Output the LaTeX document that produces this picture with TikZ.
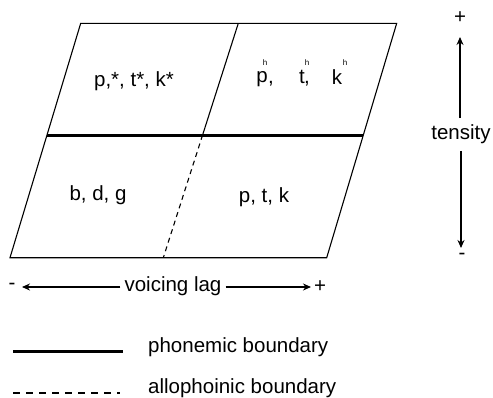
\documentclass[tikz,border=0pt]{standalone}
\usepackage{fontspec}
\setmainfont{Liberation Sans}
\usetikzlibrary{arrows.meta}
\begin{document}
\begin{tikzpicture}[x=1pt,y=-1pt,
  lbl/.style={inner sep=0pt,font=\fontsize{20.5}{24}\selectfont},
  sup/.style={inner sep=0pt,font=\fontsize{8}{9}\selectfont},
  thin/.style={line width=1.1pt},
  thick3/.style={line width=3pt},
  arr/.style={line width=1.1pt,-{Stealth[length=8pt,width=7pt]}}]
\useasboundingbox (0,0) rectangle (493,397);
% corners
\coordinate (TL) at (80.7,23.3);
\coordinate (TR) at (396.7,23.3);
\coordinate (BL) at (10,257.7);
\coordinate (BR) at (326.7,257.7);
\coordinate (TM) at (238.3,23.3);
\coordinate (BM) at (163.3,257.7);
\coordinate (ML) at (47,135);
\coordinate (MR) at (363.3,135);
\coordinate (MM) at (202.6,135);
\draw[thin,line join=miter] (TL) -- (TR) -- (BR) -- (BL) -- cycle;
\draw[thin] (TM) -- (MM);
\draw[thin,dashed,dash pattern=on 5pt off 4pt] (MM) -- (BM);
\draw[thick3] (ML) -- (MR);
% cell labels
\node[lbl] (c1) at (134,81) {p,*, t*, k*};
\node[lbl] (p1) at (262,79) {p};
\node[sup] (p1h) at (265,63) {h};
\node[lbl] (p1c) at (271,84) {,};
\node[lbl] (t1) at (302,77) {t};
\node[sup] (t1h) at (307,63) {h};
\node[lbl] (t1c) at (307,84) {,};
\node[lbl] (k1) at (337,77) {k};
\node[sup] (k1h) at (345,63) {h};
\node[lbl] (c3) at (98,195) {b, d, g};
\node[lbl] (c4) at (264,197) {p, t, k};
% voicing lag axis
\node[lbl] (vminus) at (12,286) {-};
\node[lbl] (vlag) at (173,286) {voicing lag};
\node[lbl] (vplus) at (320,287) {+};
\coordinate (vl) at (22,287);
\coordinate (vr) at (311,287);
\draw[arr] (vlag.west) ++(-4,1) coordinate (vla) -- (vl);
\draw[arr] (vlag.east) ++(4,1) coordinate (vra) -- (vr);
% tensity axis
\node[lbl] (tplus) at (460,18) {+};
\node[lbl] (tens) at (461,134) {tensity};
\node[lbl] (tminus) at (462,256) {-};
\coordinate (tt) at (460,37);
\coordinate (tb) at (461,248);
\draw[arr] (tens.north) ++(-1,-6) coordinate (tta) -- (tt);
\draw[arr] (tens.south) ++(0,7) coordinate (tba) -- (tb);
% legend
\coordinate (l1a) at (13,351);
\coordinate (l1b) at (123,351);
\coordinate (l2a) at (13,393);
\coordinate (l2b) at (120,393);
\draw[thick3] (l1a) -- (l1b);
\draw[thin,dashed,dash pattern=on 7pt off 6pt] (l2a) -- (l2b);
\node[lbl,anchor=west] (leg1) at (148,347) {phonemic boundary};
\node[lbl,anchor=west] (leg2) at (148,388) {allophoinic boundary};
\end{tikzpicture}
\end{document}
